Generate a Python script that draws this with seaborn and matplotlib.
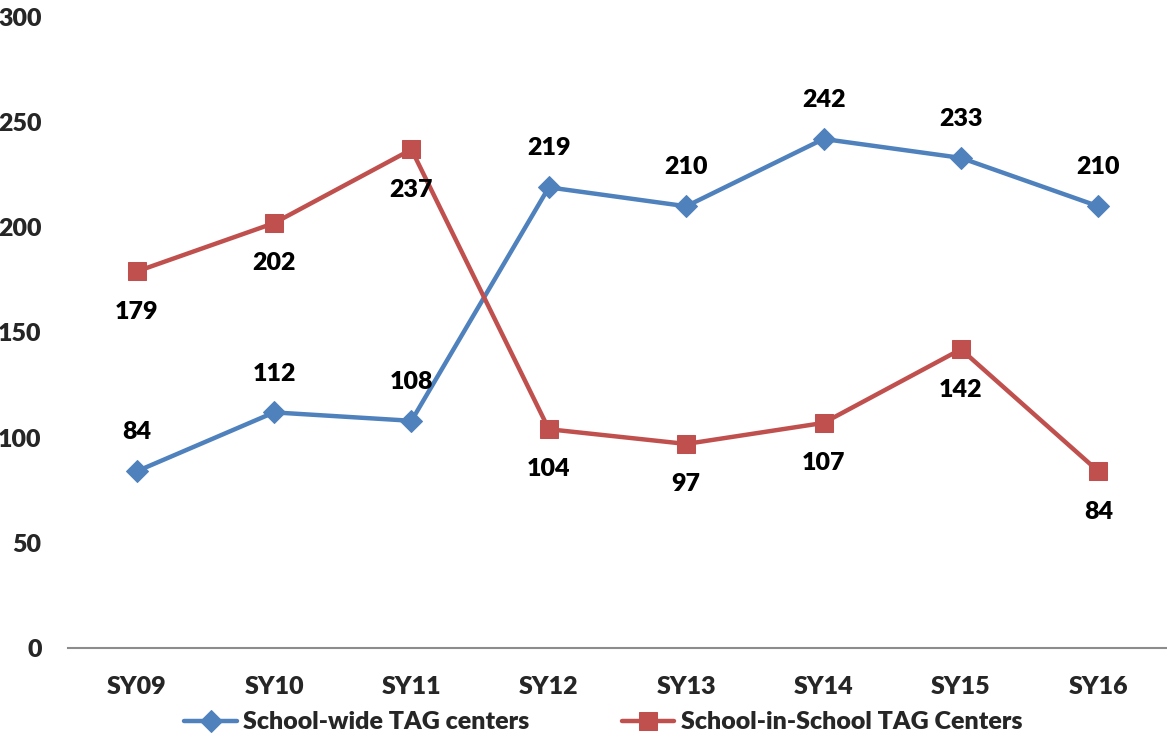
import matplotlib
matplotlib.use("Agg")
import matplotlib.pyplot as plt
import seaborn as sns
import pandas as pd

years = ["SY09", "SY10", "SY11", "SY12", "SY13", "SY14", "SY15", "SY16"]
school_wide = [84, 112, 108, 219, 210, 242, 233, 210]
school_in_school = [179, 202, 237, 104, 97, 107, 142, 84]
series_names = ["School-wide TAG centers", "School-in-School TAG Centers"]

sns.set_theme(style="white")
plt.rcParams["font.family"] = ["Lato", "DejaVu Sans"]
plt.rcParams["font.weight"] = "heavy"

FS = 18
WEIGHT = "heavy"

df = pd.DataFrame({
    "year": years * 2,
    "pos": list(range(len(years))) * 2,
    "value": school_wide + school_in_school,
    "series": [series_names[0]] * len(years) + [series_names[1]] * len(years),
})

colors = {series_names[0]: "#4F81BD", series_names[1]: "#C0504D"}
markers = {series_names[0]: "D", series_names[1]: "s"}
sizes = {series_names[0]: 11, series_names[1]: 13}

fig = plt.figure(figsize=(11.67, 7.38), dpi=100)
ax = fig.add_axes([0.0583, 0.122, 0.9417, 0.855])

for name in series_names:
    sub = df[df["series"] == name]
    sns.lineplot(data=sub, x="pos", y="value", ax=ax, color=colors[name],
                 marker=markers[name], markersize=sizes[name],
                 markeredgecolor=colors[name], linewidth=3.2, label=name,
                 sort=False)

# value labels: blue above points, red below
for i, v in enumerate(school_wide):
    ax.annotate(str(v), (i, v), xytext=(0, 28), textcoords="offset points",
                ha="center", va="center", fontsize=FS, fontweight=WEIGHT,
                color="black")
for i, v in enumerate(school_in_school):
    ax.annotate(str(v), (i, v), xytext=(0, -29), textcoords="offset points",
                ha="center", va="center", fontsize=FS, fontweight=WEIGHT,
                color="black")

ax.set_xlim(-0.5, len(years) - 0.5)
ax.set_ylim(0, 300)
ax.set_yticks(range(0, 301, 50))
ax.set_xticks(range(len(years)))
ax.set_xticklabels(years)
ax.set_xlabel("")
ax.set_ylabel("")
ax.tick_params(axis="y", length=0, pad=19, labelsize=FS)
ax.tick_params(axis="x", length=0, pad=20, labelsize=FS)
for lbl in ax.get_xticklabels() + ax.get_yticklabels():
    lbl.set_fontweight(WEIGHT)

for s in ["top", "right", "left"]:
    ax.spines[s].set_visible(False)
ax.spines["bottom"].set_color("#8C8C8C")
ax.spines["bottom"].set_linewidth(1.5)
ax.grid(False)

leg = ax.legend(loc="center", bbox_to_anchor=(0.487, -0.118), ncol=2,
                frameon=False, handlelength=2.1,
                columnspacing=3.7, handletextpad=0.25,
                prop={"weight": WEIGHT, "size": FS})

fig.savefig("out.png", dpi=100, facecolor="white")
